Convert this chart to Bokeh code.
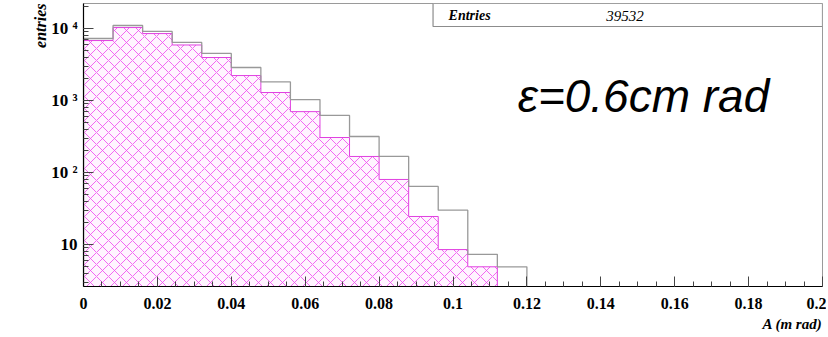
from bokeh.plotting import figure
from bokeh.models import Range1d, FixedTicker, LogTicker, BoxAnnotation, Label, Title
from bokeh.embed import file_html
from bokeh.resources import INLINE

# ---- data ----
bin_edges = [0.0, 0.008, 0.016, 0.024, 0.032, 0.040, 0.048, 0.056, 0.064,
             0.072, 0.080, 0.088, 0.096, 0.104, 0.112, 0.120]
grey_counts = [7260, 11000, 9100, 6400, 4500, 2870, 1810, 1030, 620, 316,
               167, 64, 30, 7.3, 4.9]
pink_counts = [6800, 10300, 8500, 5900, 3950, 2220, 1290, 700, 306, 167,
               80, 24.5, 8.5, 4.9]
x_ticks = [0, 0.02, 0.04, 0.06, 0.08, 0.1, 0.12, 0.14, 0.16, 0.18, 0.2]
x_tick_labels = ["0", "0.02", "0.04", "0.06", "0.08", "0.1", "0.12", "0.14",
                 "0.16", "0.18", "0.2"]
y_ticks = [10, 100, 1000, 10000]
y_tick_labels = ["10", "10 \u00b2", "10 \u00b3", "10 \u2074"]
entries_text = "39532"
emittance_text = "\u03b5=0.6cm rad"

Y_LO, Y_HI = 2.61, 22230.0
FLOOR = 1.0

p = figure(width=826, height=335, x_axis_type="linear", y_axis_type="log",
           x_range=Range1d(0, 0.2), y_range=Range1d(Y_LO, Y_HI),
           output_backend="svg", toolbar_location=None, title=None,
           min_border_left=83, min_border_right=4, min_border_top=3,
           min_border_bottom=49)
p.background_fill_color = "white"
p.border_fill_color = "white"
p.outline_line_color = "#9a9a9a"
p.outline_line_width = 1
p.xgrid.visible = False
p.ygrid.visible = False

# magenta hatched histogram
p.quad(left=bin_edges[:-2], right=bin_edges[1:-1], top=pink_counts,
       bottom=FLOOR, fill_color="#fff4ff", fill_alpha=1.0,
       hatch_pattern="x", hatch_color="#f050f0", hatch_scale=12,
       hatch_weight=0.85, line_alpha=0)

def step_path(edges, counts):
    xs, ys = [edges[0]], [FLOOR]
    for i, c in enumerate(counts):
        xs += [edges[i], edges[i + 1]]
        ys += [c, c]
    xs.append(edges[len(counts)])
    ys.append(FLOOR)
    return xs, ys

px, py = step_path(bin_edges, pink_counts)
p.line(px, py, line_color="#e040e0", line_width=1)
gx, gy = step_path(bin_edges, grey_counts)
p.line(gx, gy, line_color="#999999", line_width=1.3)

# axes
font = "Liberation Serif"
p.xaxis.ticker = FixedTicker(ticks=x_ticks,
                             minor_ticks=[i * 0.005 for i in range(41)])
p.xaxis.major_label_overrides = dict(zip(x_ticks, x_tick_labels))
p.yaxis.ticker = LogTicker(num_minor_ticks=10)
p.yaxis.major_label_overrides = dict(zip(y_ticks, y_tick_labels))
for ax in (p.xaxis[0], p.yaxis[0]):
    ax.axis_line_color = "black"
    ax.axis_line_width = 1.2
    ax.major_tick_in = 10
    ax.major_tick_out = 0
    ax.minor_tick_in = 5
    ax.minor_tick_out = 0
    ax.major_tick_line_color = "#444444"
    ax.minor_tick_line_color = "#444444"
    ax.major_label_text_font = font
    ax.major_label_text_font_style = "bold"
    ax.major_label_text_font_size = "16px"
    ax.major_label_text_color = "black"
p.xaxis.major_label_standoff = 11
p.yaxis.major_label_standoff = 6
p.yaxis.major_label_text_font_size = "17px"

p.add_layout(Title(text="entries", align="right", text_font=font,
                   text_font_style="bold italic", text_font_size="16px",
                   text_color="black", standoff=0), "left")
p.add_layout(Title(text="A (m rad)", align="right", text_font=font,
                   text_font_style="bold italic", text_font_size="15px",
                   text_color="black", standoff=5), "below")

# stats box
p.add_layout(BoxAnnotation(left=0.0946, right=0.2, bottom=10660, top=None,
                           fill_color="white", fill_alpha=1.0,
                           line_color="#8c8c8c", line_width=1.2, line_alpha=1.0))
p.add_layout(Label(x=0.0988, y=15000, text="Entries", text_font=font,
                   text_font_style="bold italic", text_font_size="14px",
                   text_baseline="middle", text_color="black"))
p.add_layout(Label(x=0.1415, y=15000, text=entries_text, text_font=font,
                   text_font_style="italic", text_font_size="15px",
                   text_baseline="middle", text_color="black"))

# emittance annotation
p.add_layout(Label(x=0.1175, y=1140, text=emittance_text,
                   text_font="Liberation Sans", text_font_style="italic",
                   text_font_size="46px", text_baseline="alphabetic",
                   text_color="black"))

open("out.html", "w").write(file_html(p, INLINE))
